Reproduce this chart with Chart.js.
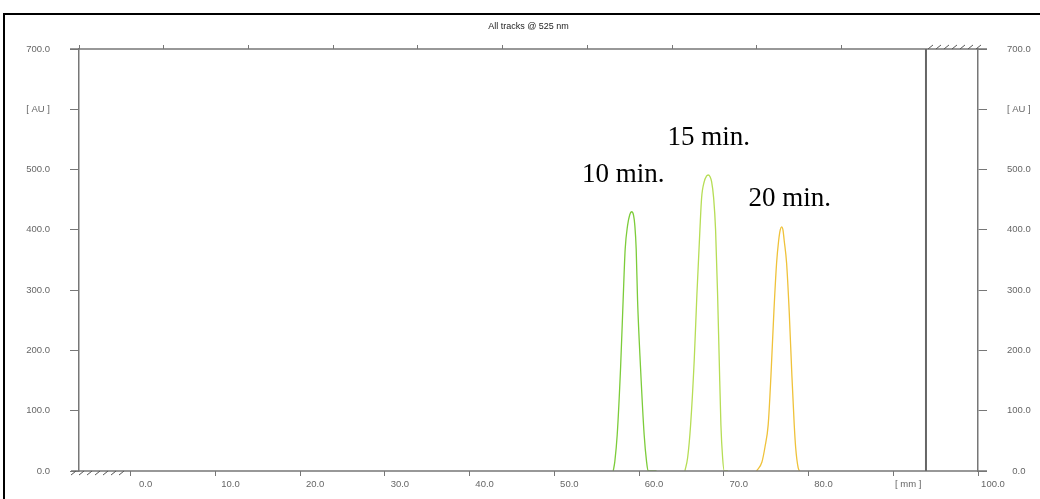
<!doctype html>
<html>

<head>
	<title>All tracks @ 525 nm</title>
	<script src="https://cdn.jsdelivr.net/npm/chart.js@4.4.1/dist/chart.umd.min.js"></script>
	<style>
		body { margin: 0; background: #fff; }
	</style>
</head>

<body>
	<canvas id="chart-area" width="1040" height="499"></canvas>
	<script>
		// densitogram tracks: position [mm] and absorbance [AU]
		var track10X = [56.95, 57.14, 57.42, 57.82, 58.12, 58.36, 58.64, 58.9, 59.12, 59.35, 59.5, 59.66, 59.82, 60.17, 60.6, 60.88, 61.07, 62.06];
		var track10Y = [0, 16, 60, 172, 284, 368, 407, 425, 430, 424, 407, 368, 284, 172, 60, 16, 0, 0];

		var track15X = [65.41, 65.73, 66.08, 66.51, 66.82, 67.18, 67.38, 67.69, 67.95, 68.16, 68.38, 68.56, 68.8, 69.03, 69.27, 69.46, 69.66, 69.86, 70.05, 70.48];
		var track15Y = [0, 22, 76, 184, 291, 400, 453, 480, 489, 491, 488, 480, 453, 400, 291, 184, 76, 22, 0, 0];

		var track20X = [73.87, 74.5, 74.85, 75.24, 75.56, 75.91, 76.23, 76.47, 76.66, 76.82, 76.98, 77.13, 77.41, 77.72, 78.04, 78.31, 78.48, 78.78, 78.95];
		var track20Y = [0, 15, 39, 77, 157, 264, 345, 382, 400, 405, 400, 382, 345, 264, 157, 77, 39, 5, 0];

		var trackNames = ['10 min.', '15 min.', '20 min.'];
		var trackColors = ['#7ccc3a', '#b6dd55', '#efc23a'];
		// where each name is written (centre x in mm, baseline in AU)
		var nameX = [58.13, 68.23, 77.79];
		var nameY = [479, 541, 440];

		var xMin = -6.1, xMax = 100;
		var xTicks = [0, 10, 20, 30, 40, 50, 60, 70, 80, 90, 100];
		var xTickLabels = ['0.0', '10.0', '20.0', '30.0', '40.0', '50.0', '60.0', '70.0', '80.0', '[ mm ]', '100.0'];
		var topTicks = [-6.1, 3.9, 13.9, 23.9, 33.9, 43.9, 53.9, 63.9, 73.9, 83.9];
		var yTicks = [0, 100, 200, 300, 400, 500, 600, 700];
		var yTickLabels = ['0.0', '100.0', '200.0', '300.0', '400.0', '500.0', '[ AU ]', '700.0'];
		var scanEnd = 93.86;
		var hatchLeft = [-7.04, -1.26];

		var toPoints = function(xs, ys) {
			return xs.map(function(x, i) { return {x: x, y: ys[i]}; });
		};

		var axisFont = {family: 'Liberation Sans', size: 9.5};
		var axisGrey = '#777';

		var decor = {
			id: 'decor',
			beforeDraw: function(chart) {
				var ctx = chart.ctx;
				ctx.save();
				ctx.strokeStyle = '#000';
				ctx.lineWidth = 2;
				ctx.beginPath();
				ctx.moveTo(4, chart.height);
				ctx.lineTo(4, 14);
				ctx.lineTo(chart.width, 14);
				ctx.stroke();
				ctx.restore();
			},
			afterDraw: function(chart) {
				var ctx = chart.ctx, a = chart.chartArea;
				var x = chart.scales.x, y = chart.scales.y;
				ctx.save();
				ctx.strokeStyle = axisGrey;
				ctx.lineWidth = 1.5;
				ctx.beginPath();
				ctx.moveTo(a.left - 9, a.top); ctx.lineTo(a.right + 9, a.top);
				ctx.moveTo(a.left - 8, a.bottom); ctx.lineTo(a.right + 9, a.bottom);
				ctx.stroke();

				// end of scanned track
				var endPx = x.getPixelForValue(scanEnd);
				ctx.strokeStyle = '#666';
				ctx.lineWidth = 2;
				ctx.beginPath();
				ctx.moveTo(endPx, a.top); ctx.lineTo(endPx, a.bottom);
				ctx.stroke();

				// hatched corners
				ctx.strokeStyle = '#555';
				ctx.lineWidth = 1;
				ctx.beginPath();
				var p;
				for (p = x.getPixelForValue(hatchLeft[0]); p < x.getPixelForValue(hatchLeft[1]); p += 8) {
					ctx.moveTo(p, a.bottom + 4); ctx.lineTo(p + 5, a.bottom);
				}
				for (p = endPx + 2; p < a.right - 2; p += 8) {
					ctx.moveTo(p, a.top); ctx.lineTo(p + 5, a.top - 4);
				}
				ctx.stroke();

				// track names
				ctx.fillStyle = '#000';
				ctx.font = '27px "Liberation Serif"';
				ctx.textAlign = 'center';
				ctx.textBaseline = 'alphabetic';
				trackNames.forEach(function(name, i) {
					ctx.fillText(name, x.getPixelForValue(nameX[i]), y.getPixelForValue(nameY[i]));
				});
				ctx.restore();
			}
		};

		var yAxis = function(pos, width) {
			return {
				position: pos,
				min: 0,
				max: 700,
				afterBuildTicks: function(scale) {
					scale.ticks = yTicks.map(function(v) { return {value: v}; });
				},
				afterFit: function(scale) { scale.width = width; },
				grid: {drawOnChartArea: false, tickLength: 9, color: axisGrey},
				border: {display: true, color: axisGrey, width: 1.5},
				ticks: {
					font: axisFont,
					color: '#666',
					padding: 20,
					crossAlign: pos === 'right' ? 'center' : 'near',
					callback: function(value) { return yTickLabels[yTicks.indexOf(value)]; }
				}
			};
		};

		var config = {
			type: 'line',
			data: {
				datasets: [
					{label: trackNames[0], data: toPoints(track10X, track10Y), borderColor: trackColors[0]},
					{label: trackNames[1], data: toPoints(track15X, track15Y), borderColor: trackColors[1]},
					{label: trackNames[2], data: toPoints(track20X, track20Y), borderColor: trackColors[2]}
				]
			},
			options: {
				responsive: false,
				animation: false,
				layout: {padding: 0},
				elements: {
					point: {radius: 0},
					line: {borderWidth: 1.3, fill: false, cubicInterpolationMode: 'monotone'}
				},
				plugins: {
					legend: {display: false},
					tooltip: {enabled: false},
					title: {
						display: true,
						fullSize: false,
						text: 'All tracks @ 525 nm',
						color: '#222',
						font: {family: 'Liberation Sans', size: 9, weight: 'normal'},
						padding: {top: 21, bottom: 4}
					}
				},
				scales: {
					x: {
						type: 'linear',
						position: 'bottom',
						min: xMin,
						max: xMax,
						afterBuildTicks: function(scale) {
							scale.ticks = xTicks.map(function(v) { return {value: v}; });
						},
						afterFit: function(scale) { scale.height = 28; },
						grid: {drawOnChartArea: false, tickLength: 5, color: axisGrey},
						border: {display: false},
						ticks: {
							font: axisFont,
							color: '#666',
							padding: 3,
							labelOffset: 15,
							maxRotation: 0,
							autoSkip: false,
							callback: function(value) { return xTickLabels[xTicks.indexOf(value)]; }
						}
					},
					x2: {
						type: 'linear',
						position: 'top',
						min: xMin,
						max: xMax,
						afterBuildTicks: function(scale) {
							scale.ticks = topTicks.map(function(v) { return {value: v}; });
						},
						afterFit: function(scale) { scale.height = 13.2; },
						grid: {drawOnChartArea: false, tickLength: 4, color: axisGrey},
						border: {display: false},
						ticks: {display: false}
					},
					y: yAxis('left', 79),
					y2: yAxis('right', 62)
				}
			},
			plugins: [decor]
		};

		window.onload = function() {
			var ctx = document.getElementById('chart-area').getContext('2d');
			window.myChart = new Chart(ctx, config);
		};
	</script>
</body>

</html>
